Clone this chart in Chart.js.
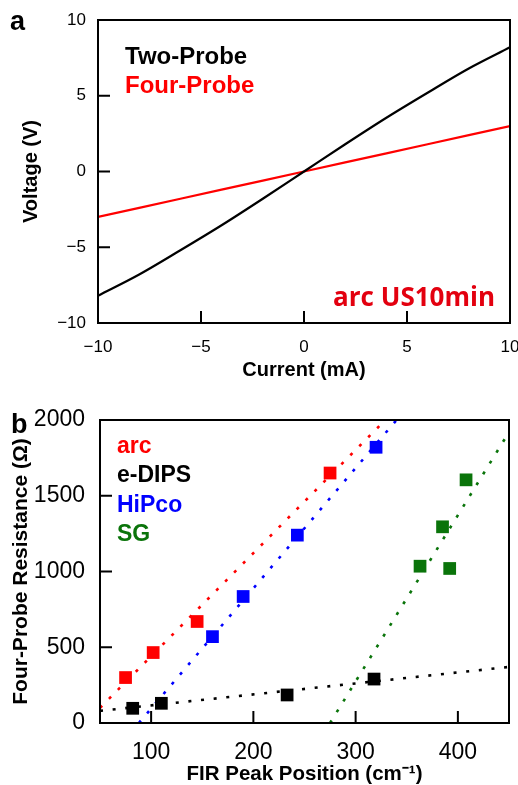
<!DOCTYPE html>
<html>
<head>
<meta charset="utf-8">
<script src="https://cdn.jsdelivr.net/npm/chart.js@4"></script>
<style>
  body { margin: 0; background: #fff; }
  #wrapA { position: absolute; left: 0; top: 0; width: 518px; height: 390px; }
  #wrapB { position: absolute; left: 0; top: 390px; width: 518px; height: 395px; }
</style>
</head>
<body>
<div id="wrapA"><canvas id="chartA"></canvas></div>
<div id="wrapB"><canvas id="chartB"></canvas></div>
<script>
// ---- panel a : I-V curves ----
const current = [-10, -8, -6, -4, -2, 0, 2, 4, 6, 8, 10];
const twoProbeV = [-8.2, -6.8, -5.2, -3.55, -1.8, 0, 1.8, 3.55, 5.2, 6.8, 8.2];
const fourProbeV = [-3, -2.4, -1.8, -1.2, -0.6, 0, 0.6, 1.2, 1.8, 2.4, 3];
const ticksA = [-10, -5, 0, 5, 10];

// ---- panel b : resistance vs FIR peak ----
const seriesB = ['arc', 'e-DIPS', 'HiPco', 'SG'];
const colorsB = ['#ff0000', '#000000', '#0000ff', '#0a740a'];
const firArc = [75, 102, 145, 275];
const resArc = [300, 465, 670, 1650];
const firEdips = [82, 110, 233, 318];
const resEdips = [97, 130, 185, 290];
const firHipco = [160, 190, 243, 320];
const resHipco = [570, 835, 1240, 1820];
const firSg = [363, 385, 392, 408];
const resSg = [1035, 1295, 1020, 1605];
// fitted lines (end points)
const fitArcX = [50, 329], fitArcY = [100, 2000];
const fitEdipsX = [50, 450], fitEdipsY = [80, 370];
const fitHipcoX = [88, 340], fitHipcoY = [0, 2000];
const fitSgX = [275, 450], fitSgY = [0, 1920];
const xTicksB = [50, 100, 200, 300, 400, 450];
const yTicksB = [0, 500, 1000, 1500, 2000];

const pts = (xs, ys) => xs.map((x, i) => ({ x: x, y: ys[i] }));
const minus = v => v < 0 ? '\u2212' + Math.abs(v) : String(v);

// box around the plot + inward ticks
const frame = {
  id: 'frame',
  afterDatasetsDraw(chart) {
    const { ctx, chartArea: a, scales } = chart;
    const len = 12;
    ctx.save();
    ctx.strokeStyle = '#000';
    ctx.lineWidth = 2;
    ctx.beginPath();
    scales.x.ticks.forEach(t => {
      if (t.value <= scales.x.min || t.value >= scales.x.max) return;
      const px = scales.x.getPixelForValue(t.value);
      ctx.moveTo(px, a.bottom);
      ctx.lineTo(px, a.bottom - len);
    });
    scales.y.ticks.forEach(t => {
      if (t.value <= scales.y.min || t.value >= scales.y.max) return;
      const py = scales.y.getPixelForValue(t.value);
      ctx.moveTo(a.left, py);
      ctx.lineTo(a.left + len, py);
    });
    ctx.stroke();
    ctx.strokeRect(a.left, a.top, a.right - a.left, a.bottom - a.top);
    ctx.restore();
  }
};

// free text: panel letter, legend words, sample name
const notes = {
  id: 'notes',
  afterDraw(chart, args, opts) {
    const { ctx, chartArea: a } = chart;
    ctx.save();
    ctx.textBaseline = 'alphabetic';
    opts.items.forEach(it => {
      ctx.font = it.font;
      ctx.fillStyle = it.color;
      ctx.textAlign = it.align || 'left';
      const x = it.abs ? it.x : (it.x >= 0 ? a.left + it.x : a.right + it.x);
      const y = it.abs ? it.y : (it.y >= 0 ? a.top + it.y : a.bottom + it.y);
      ctx.fillText(it.text, x, y);
    });
    ctx.restore();
  }
};

function baseScale(min, max, list, size, pad, fit) {
  return {
    type: 'linear',
    min: min,
    max: max,
    grid: { display: false, drawTicks: false },
    border: { display: false },
    afterBuildTicks: s => { s.ticks = list.map(v => ({ value: v })); },
    afterFit: s => {
      if (s.isHorizontal()) { s.height = fit; s.paddingLeft = 0; s.paddingRight = 0; }
      else { s.width = fit; s.paddingTop = 0; s.paddingBottom = 0; }
    },
    ticks: {
      color: '#000',
      padding: pad,
      autoSkip: false,
      maxRotation: 0,
      font: { family: 'Liberation Sans', size: size },
      callback: v => minus(v)
    }
  };
}

// ---------- chart a ----------
const xA = baseScale(-10, 10, ticksA, 17, 14, 67);
xA.title = { display: true, text: 'Current (mA)', color: '#000',
  font: { family: 'Liberation Sans', size: 20, weight: 'bold', lineHeight: 1.2 },
  padding: { top: 0, bottom: 8 } };
const yA = baseScale(-10, 10, ticksA, 17, 12, 98);
yA.title = { display: true, text: 'Voltage (V)', color: '#000',
  font: { family: 'Liberation Sans', size: 20, weight: 'bold', lineHeight: 1.2 },
  padding: { top: 19, bottom: 0 } };

new Chart(document.getElementById('chartA'), {
  type: 'line',
  data: {
    labels: current,
    datasets: [
      { label: 'Two-Probe', data: pts(current, twoProbeV), borderColor: '#000000',
        borderWidth: 2.2, pointRadius: 0, cubicInterpolationMode: 'monotone' },
      { label: 'Four-Probe', data: pts(current, fourProbeV), borderColor: '#ff0000',
        borderWidth: 2.2, pointRadius: 0, tension: 0 }
    ]
  },
  options: {
    responsive: true,
    maintainAspectRatio: false,
    animation: false,
    layout: { padding: { left: 0, right: 8, top: 20, bottom: 0 } },
    scales: { x: xA, y: yA },
    plugins: {
      legend: { display: false },
      tooltip: { enabled: false },
      notes: { items: [
        { text: 'a', abs: true, x: 10, y: 30, font: 'bold 27px "Liberation Sans"', color: '#000' },
        { text: 'Two-Probe', x: 27, y: 44, font: 'bold 24px "Liberation Sans"', color: '#000' },
        { text: 'Four-Probe', x: 27, y: 73, font: 'bold 24px "Liberation Sans"', color: '#ff0000' },
        { text: 'arc US10min', x: -15, y: -17, align: 'right', font: 'bold 26px "Open Sans"', color: '#e3000f' }
      ] }
    }
  },
  plugins: [frame, notes]
});

// ---------- chart b ----------
const xB = baseScale(50, 450, xTicksB, 23, 16, 62);
xB.ticks.callback = v => (v === 50 || v === 450) ? '' : String(v);
xB.title = { display: true, text: 'FIR Peak Position (cm\u207B\u00B9)', color: '#000',
  font: { family: 'Liberation Sans', size: 20.5, weight: 'bold', lineHeight: 1 },
  padding: { top: 0, bottom: 0 } };
const yB = baseScale(0, 2000, yTicksB, 23, 15, 100);
yB.ticks.callback = v => String(v);
yB.title = { display: true, text: 'Four-Probe Resistance (\u03A9)', color: '#000',
  font: { family: 'Liberation Sans', size: 21, weight: 'bold', lineHeight: 1.2 },
  padding: { top: 9, bottom: 0 } };

const sq = (i, xs, ys) => ({ label: seriesB[i], data: pts(xs, ys), showLine: false,
  pointStyle: 'rect', pointRadius: 9, pointBorderWidth: 0,
  backgroundColor: colorsB[i], borderColor: colorsB[i] });
const fit = (i, xs, ys) => ({ label: seriesB[i] + ' fit', data: pts(xs, ys), showLine: true,
  pointRadius: 0, borderColor: colorsB[i], borderWidth: 2.6, borderDash: [3, 9.7] });

new Chart(document.getElementById('chartB'), {
  type: 'scatter',
  data: {
    datasets: [
      sq(0, firArc, resArc), sq(1, firEdips, resEdips), sq(2, firHipco, resHipco), sq(3, firSg, resSg),
      fit(0, fitArcX, fitArcY), fit(1, fitEdipsX, fitEdipsY), fit(2, fitHipcoX, fitHipcoY), fit(3, fitSgX, fitSgY)
    ]
  },
  options: {
    responsive: true,
    maintainAspectRatio: false,
    animation: false,
    layout: { padding: { left: 0, right: 7, top: 30, bottom: 0 } },
    scales: { x: xB, y: yB },
    plugins: {
      legend: { display: false },
      tooltip: { enabled: false },
      notes: { items: [
        { text: 'b', abs: true, x: 11, y: 43, font: 'bold 27px "Liberation Sans"', color: '#000' }
      ].concat(seriesB.map((s, i) => ({ text: s, x: 17, y: 33 + i * 29.4,
        font: 'bold 23px "Liberation Sans"', color: colorsB[i] }))) }
    }
  },
  plugins: [frame, notes]
});
</script>
</body>
</html>
